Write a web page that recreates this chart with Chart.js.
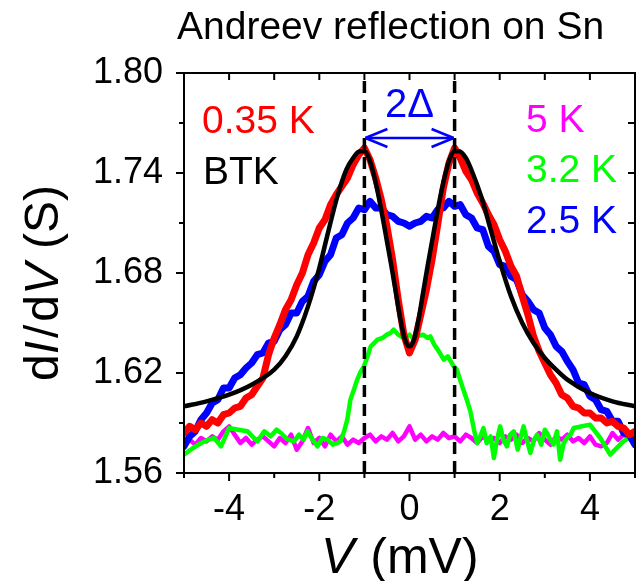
<!DOCTYPE html>
<html>
<head>
<meta charset="utf-8">
<script src="https://cdn.jsdelivr.net/npm/chart.js@4.4.1/dist/chart.umd.min.js"></script>
<style>
  html, body { margin: 0; padding: 0; background: #fff; }
  #sn { display: block; }
</style>
</head>
<body>
<canvas id="sn" width="643" height="581"></canvas>
<script>
var FONT = "'Liberation Sans', Arial, sans-serif";

// bias grid of the measured sweeps (mV)
var biasFine = [-5, -4.875, -4.75, -4.625, -4.5, -4.375, -4.25, -4.125, -4, -3.875, -3.75, -3.625, -3.5, -3.375, -3.25, -3.125,
  -3, -2.875, -2.75, -2.625, -2.5, -2.375, -2.25, -2.125, -2, -1.875, -1.75, -1.625, -1.5, -1.375, -1.25, -1.125,
  -1, -0.875, -0.75, -0.625, -0.5, -0.375, -0.25, -0.125, 0, 0.125, 0.25, 0.375, 0.5, 0.625, 0.75, 0.875,
  1, 1.125, 1.25, 1.375, 1.5, 1.625, 1.75, 1.875, 2, 2.125, 2.25, 2.375, 2.5, 2.625, 2.75, 2.875,
  3, 3.125, 3.25, 3.375, 3.5, 3.625, 3.75, 3.875, 4, 4.125, 4.25, 4.375, 4.5, 4.625, 4.75, 4.875, 5];

// dI/dV (S) at 0.35 K
var g035K = [1.584, 1.588, 1.586, 1.590, 1.588, 1.592, 1.590, 1.595, 1.596, 1.599, 1.600, 1.605, 1.607, 1.612, 1.617, 1.631,
  1.641, 1.649, 1.658, 1.664, 1.673, 1.680, 1.691, 1.698, 1.707, 1.712, 1.721, 1.727, 1.732, 1.737, 1.745, 1.751,
  1.755, 1.748, 1.737, 1.724, 1.708, 1.688, 1.664, 1.643, 1.632, 1.640, 1.655, 1.670, 1.688, 1.709, 1.731, 1.746,
  1.755, 1.749, 1.741, 1.736, 1.728, 1.722, 1.715, 1.709, 1.700, 1.693, 1.684, 1.678, 1.666, 1.655, 1.642, 1.633,
  1.626, 1.619, 1.614, 1.607, 1.605, 1.600, 1.599, 1.596, 1.596, 1.593, 1.593, 1.590, 1.591, 1.588, 1.587, 1.583, 1.585];

// dI/dV (S) at 2.5 K
var g25K = [1.576, 1.582, 1.585, 1.592, 1.596, 1.602, 1.604, 1.611, 1.611, 1.617, 1.619, 1.623, 1.626, 1.631, 1.632, 1.638,
  1.639, 1.646, 1.649, 1.656, 1.656, 1.663, 1.666, 1.675, 1.679, 1.687, 1.691, 1.701, 1.703, 1.710, 1.713, 1.719,
  1.718, 1.723, 1.719, 1.719, 1.715, 1.714, 1.711, 1.710, 1.708, 1.710, 1.711, 1.714, 1.713, 1.718, 1.719, 1.723,
  1.720, 1.721, 1.715, 1.713, 1.707, 1.706, 1.696, 1.693, 1.685, 1.684, 1.678, 1.676, 1.667, 1.663, 1.658, 1.656,
  1.647, 1.643, 1.636, 1.633, 1.627, 1.622, 1.614, 1.613, 1.606, 1.604, 1.598, 1.597, 1.591, 1.591, 1.584, 1.583, 1.577];

// dI/dV (S) at 5 K (normal state)
var g5K = [1.578, 1.580, 1.577, 1.581, 1.579, 1.582, 1.580, 1.585, 1.588, 1.583, 1.578, 1.581, 1.577, 1.580, 1.582, 1.579,
  1.576, 1.581, 1.578, 1.583, 1.574, 1.579, 1.587, 1.578, 1.581, 1.576, 1.583, 1.579, 1.582, 1.577, 1.580, 1.578,
  1.581, 1.583, 1.579, 1.582, 1.580, 1.584, 1.579, 1.582, 1.588, 1.580, 1.583, 1.579, 1.582, 1.580, 1.584, 1.581,
  1.582, 1.579, 1.583, 1.581, 1.578, 1.582, 1.579, 1.581, 1.578, 1.582, 1.580, 1.583, 1.578, 1.581, 1.579, 1.584,
  1.580, 1.577, 1.582, 1.580, 1.583, 1.579, 1.581, 1.578, 1.582, 1.577, 1.576, 1.578, 1.584, 1.580, 1.583, 1.581, 1.579];

// 3.2 K sweep (coarser steps)
var bias32K = [-5, -4.8, -4.62, -4.45, -4.33, -4.18, -4, -3.8, -3.59, -3.45, -3.37, -3.22, -3.08, -2.95, -2.85, -2.7,
  -2.56, -2.45, -2.35, -2.26, -2.15, -2.04, -1.93, -1.82, -1.7, -1.6, -1.53, -1.45, -1.38, -1.31, -1.22, -1.16,
  -1.08, -1.01, -0.93, -0.86, -0.78, -0.71, -0.6, -0.5, -0.42, -0.35, -0.25, -0.13, 0, 0.1, 0.17, 0.3,
  0.4, 0.46, 0.55, 0.65, 0.76, 0.85, 0.98, 1.05, 1.17, 1.27, 1.35, 1.43, 1.5, 1.57, 1.64, 1.71,
  1.8, 1.87, 1.94, 2.01, 2.08, 2.16, 2.23, 2.31, 2.4, 2.47, 2.53, 2.6, 2.68, 2.76, 2.83, 2.92,
  3, 3.05, 3.12, 3.19, 3.27, 3.34, 3.42, 3.49, 3.57, 3.64, 4, 4.23, 4.45, 4.74, 5];
var g32K = [1.571, 1.575, 1.578, 1.580, 1.581, 1.576, 1.587, 1.586, 1.585, 1.581, 1.579, 1.585, 1.582, 1.586, 1.584, 1.580,
  1.579, 1.583, 1.580, 1.585, 1.580, 1.576, 1.581, 1.580, 1.577, 1.578, 1.579, 1.585, 1.592, 1.604, 1.611, 1.616,
  1.621, 1.624, 1.630, 1.636, 1.638, 1.640, 1.641, 1.643, 1.644, 1.646, 1.643, 1.641, 1.643, 1.640, 1.642, 1.643,
  1.641, 1.642, 1.637, 1.633, 1.628, 1.630, 1.624, 1.622, 1.612, 1.604, 1.597, 1.586, 1.578, 1.582, 1.587, 1.578,
  1.582, 1.569, 1.580, 1.588, 1.580, 1.576, 1.583, 1.585, 1.574, 1.582, 1.588, 1.580, 1.572, 1.580, 1.583, 1.577,
  1.586, 1.584, 1.580, 1.577, 1.585, 1.568, 1.578, 1.581, 1.583, 1.587, 1.589, 1.581, 1.571, 1.579, 1.583];

// BTK fit
var biasBTK = [-5, -4.5, -4, -3.5, -3, -2.75, -2.5, -2.25, -2, -1.8, -1.6, -1.4, -1.25, -1.1, -1, -0.9, -0.8,
  -0.7, -0.6, -0.5, -0.4, -0.3, -0.2, -0.1, 0, 0.1, 0.2, 0.3, 0.4, 0.5, 0.6, 0.7, 0.8, 0.9, 1, 1.1, 1.25,
  1.4, 1.6, 1.8, 2, 2.25, 2.5, 2.75, 3, 3.25, 3.5, 4, 4.5, 5];
var gBTK = [1.600, 1.603, 1.607, 1.613, 1.622, 1.630, 1.642, 1.660, 1.683, 1.705, 1.726, 1.742, 1.749, 1.753, 1.753, 1.749, 1.740,
  1.728, 1.714, 1.699, 1.684, 1.668, 1.652, 1.640, 1.636, 1.640, 1.652, 1.668, 1.684, 1.699, 1.714, 1.728, 1.740, 1.749, 1.753, 1.753, 1.749,
  1.740, 1.725, 1.706, 1.687, 1.666, 1.650, 1.638, 1.629, 1.622, 1.616, 1.608, 1.603, 1.600];

var gapBias = [-1, 1];     // +-Delta markers (mV)
var arrowLevel = 1.761;    // height of the 2Delta arrow (S)
var vRange = [-5, 5];
var gRange = [1.56, 1.80];
var xTickVals = [-4, -2, 0, 2, 4];
var xMinorVals = [-5, -3, -1, 1, 3, 5];
var yTickVals = [1.56, 1.62, 1.68, 1.74, 1.80];
var yMinorVals = [1.59, 1.65, 1.71, 1.77];

function pts(xs, ys) {
  return xs.map(function (x, i) { return { x: x, y: ys[i] }; });
}
function vline(x) {
  return [{ x: x, y: gRange[0] }, { x: x, y: gRange[1] }];
}
function curve(data, color, width, order) {
  return { data: data, borderColor: color, borderWidth: width, pointRadius: 0, tension: 0,
    borderJoinStyle: 'round', borderCapStyle: 'round', fill: false, clip: 0, order: order };
}

// frame, ticks and all free text
var decor = {
  id: 'decor',
  afterDraw: function (chart) {
    var ctx = chart.ctx, a = chart.chartArea;
    var sx = chart.scales.x, sy = chart.scales.y;
    ctx.save();
    ctx.strokeStyle = '#000';
    ctx.lineWidth = 2;
    ctx.strokeRect(a.left, a.top, a.right - a.left, a.bottom - a.top);

    function tick(x1, y1, x2, y2) { ctx.beginPath(); ctx.moveTo(x1, y1); ctx.lineTo(x2, y2); ctx.stroke(); }
    xTickVals.concat(xMinorVals).forEach(function (v) {
      var px = sx.getPixelForValue(v);
      var len = xTickVals.indexOf(v) >= 0 ? 8 : 5;
      tick(px, a.bottom, px, a.bottom + len);
      tick(px, a.top, px, a.top + 7);
    });
    yTickVals.concat(yMinorVals).forEach(function (v) {
      var py = sy.getPixelForValue(v);
      var len = yTickVals.indexOf(v) >= 0 ? 8 : 5;
      tick(a.left - len, py, a.left, py);
      tick(a.right - 7, py, a.right, py);
    });

    // 2Delta arrow between the gap markers
    var xl = sx.getPixelForValue(gapBias[0]), xr = sx.getPixelForValue(gapBias[1]);
    var ya = sy.getPixelForValue(arrowLevel);
    ctx.strokeStyle = '#0000ff';
    ctx.lineWidth = 2.5;
    tick(xl + 1, ya, xr - 1, ya);
    tick(xl + 1, ya, xl + 23, ya - 9);
    tick(xl + 1, ya, xl + 23, ya + 9);
    tick(xr - 1, ya, xr - 23, ya - 9);
    tick(xr - 1, ya, xr - 23, ya + 9);

    ctx.textBaseline = 'alphabetic';
    ctx.textAlign = 'left';
    function txt(s, x, y, size, color, italic) {
      ctx.font = (italic ? 'italic ' : '') + size + 'px ' + FONT;
      ctx.fillStyle = color;
      ctx.fillText(s, x, y);
      return ctx.measureText(s).width;
    }
    txt('Andreev reflection on Sn', 177, 39, 39, '#000');
    txt('0.35 K', 202, 133, 39, '#ff0000');
    txt('BTK', 203, 184, 39, '#000');
    txt('5 K', 526, 132, 39, '#ff00ff');
    txt('3.2 K', 526, 182, 39, '#00ff00');
    txt('2.5 K', 526, 233, 39, '#0000ff');
    ctx.textAlign = 'center';
    txt('2\u0394', (xl + xr) / 2, 117, 40, '#0000ff');
    ctx.textAlign = 'left';

    // x title: V (mV)
    var w = txt('V', 321, 573, 50, '#000', true);
    txt(' (mV)', 321 + w + 2, 573, 50, '#000');

    // y title: dI/dV (S), rotated
    var runs = [['d', false, 0], ['I', true, 3], ['/', false, 3], ['d', false, 0], ['V', true, 14], ['(S)', false, 0]];
    var size = 48, total = 0;
    runs.forEach(function (r) {
      ctx.font = (r[1] ? 'italic ' : '') + size + 'px ' + FONT;
      total += ctx.measureText(r[0]).width + r[2];
    });
    ctx.translate(58, 283 + total / 2);
    ctx.rotate(-Math.PI / 2);
    var pos = 0;
    runs.forEach(function (r) {
      pos += txt(r[0], pos, 0, size, '#000', r[1]) + r[2];
    });
    ctx.restore();
  }
};

var chart = new Chart(document.getElementById('sn'), {
  type: 'line',
  data: {
    datasets: [
      Object.assign(curve(vline(gapBias[0]), '#000', 3.5, 0), { borderDash: [12, 7], borderCapStyle: 'butt' }),
      Object.assign(curve(vline(gapBias[1]), '#000', 3.5, 0), { borderDash: [12, 7], borderCapStyle: 'butt' }),
      Object.assign(curve(pts(biasBTK, gBTK), '#000', 4.5, 1), { cubicInterpolationMode: 'monotone' }),
      curve(pts(biasFine, g035K), '#ff0000', 7, 2),
      curve(pts(biasFine, g25K), '#0000ff', 7, 3),
      curve(pts(bias32K, g32K), '#00ff00', 4.5, 4),
      curve(pts(biasFine, g5K), '#ff00ff', 4.5, 5)
    ]
  },
  options: {
    responsive: false,
    animation: false,
    layout: { padding: { top: 73, right: 8, left: 0, bottom: 0 } },
    plugins: { legend: { display: false }, tooltip: { enabled: false }, title: { display: false } },
    scales: {
      x: {
        type: 'linear', min: vRange[0], max: vRange[1],
        grid: { display: false, drawTicks: false }, border: { display: false },
        afterBuildTicks: function (s) { s.ticks = xTickVals.map(function (v) { return { value: v }; }); },
        afterFit: function (s) { s.height = 108; },
        ticks: { color: '#000', font: { family: FONT, size: 36 }, padding: 15, maxRotation: 0, autoSkip: false,
          callback: function (v) { return String(v); } }
      },
      y: {
        type: 'linear', min: gRange[0], max: gRange[1],
        grid: { display: false }, border: { display: false },
        afterBuildTicks: function (s) { s.ticks = yTickVals.map(function (v) { return { value: v }; }); },
        afterFit: function (s) { s.width = 184; },
        ticks: { color: '#000', font: { family: FONT, size: 36 }, padding: 13, autoSkip: false,
          callback: function (v) { return v.toFixed(2); } }
      }
    }
  },
  plugins: [decor]
});
</script>
</body>
</html>
